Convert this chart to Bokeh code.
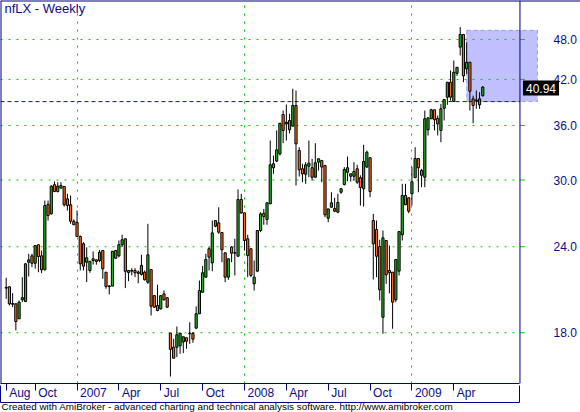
import numpy as np
import pandas as pd
from bokeh.plotting import figure
from bokeh.core.properties import value
from bokeh.models import (Range1d, FixedTicker, LinearAxis, Span, BoxAnnotation, Label,
                          Title, ColumnDataSource)
from bokeh.embed import file_html
from bokeh.resources import INLINE

# ---------------- data ----------------
chart_title = "nfLX - Weekly"
first_bar = "2006-08-04"   # weekly bars (Fridays)

opens = [20.90, 20.99, 19.85, 19.83, 18.86, 20.10, 19.98, 22.79, 23.28, 22.71,
         24.16, 23.28, 22.22, 27.65, 26.79, 29.53, 28.87, 29.20, 29.36, 28.17,
         27.62, 26.14, 26.03, 24.84, 24.24, 22.79, 22.17, 23.05, 22.97, 22.92,
         23.70, 22.04, 21.00, 21.04, 23.70, 23.28, 24.16, 24.65, 22.02, 22.17,
         22.17, 22.05, 21.88, 22.04, 21.32, 22.24, 20.38, 19.72, 19.50, 20.50,
         20.24, 17.98, 17.15, 17.15, 17.23, 17.45, 17.70, 17.94, 17.96, 18.28,
         19.18, 20.61, 21.68, 23.84, 22.74, 25.71, 26.00, 25.17, 23.52, 21.68,
         23.97, 23.49, 23.25, 28.11, 26.88, 24.65, 23.84, 21.20, 22.12, 25.34,
         26.85, 26.29, 27.70, 31.68, 31.96, 32.74, 37.34, 36.20, 36.61, 35.92,
         38.49, 33.11, 31.15, 30.59, 31.42, 31.26, 30.28, 31.85, 32.03, 31.50,
         26.40, 27.39, 27.27, 26.94, 28.80, 29.55, 30.79, 30.38, 30.38, 31.15,
         30.23, 29.14, 31.33, 32.32, 26.20, 25.43, 24.02, 18.96, 24.51, 22.17,
         22.04, 20.10, 22.12, 24.98, 28.49, 28.27, 28.65, 30.23, 32.24, 30.97,
         30.28, 35.49, 36.82, 37.94, 36.86, 35.41, 38.14, 39.58, 41.61, 39.01,
         42.87, 46.79, 48.82, 43.52, 44.49, 39.36, 39.20, 38.58, 39.78]

highs = [21.64, 21.01, 20.55, 19.85, 20.05, 21.68, 22.69, 23.44, 23.44, 24.10,
         24.16, 23.70, 28.01, 28.01, 29.46, 29.85, 29.78, 29.78, 29.36, 28.65,
         28.49, 26.30, 27.09, 24.92, 24.37, 23.95, 22.86, 23.62, 22.97, 23.75,
         23.70, 22.04, 21.10, 23.64, 23.75, 24.51, 24.98, 24.65, 22.17, 22.34,
         22.34, 22.17, 23.36, 22.17, 25.91, 22.24, 20.40, 21.14, 20.38, 20.73,
         20.24, 17.98, 17.64, 18.38, 17.98, 17.76, 17.70, 18.64, 18.05, 19.66,
         21.44, 22.50, 23.44, 23.97, 26.20, 26.20, 27.39, 25.17, 23.52, 23.05,
         24.05, 24.65, 29.07, 28.65, 26.88, 24.98, 23.84, 22.92, 25.34, 26.94,
         27.24, 27.80, 34.24, 32.57, 35.41, 36.28, 37.85, 38.62, 37.44, 40.71,
         40.47, 33.48, 31.68, 31.85, 34.24, 32.21, 33.93, 32.21, 32.03, 31.50,
         27.24, 28.80, 28.27, 28.65, 29.14, 31.32, 32.46, 30.63, 31.85, 31.57,
         30.48, 33.75, 33.11, 32.32, 26.79, 26.20, 24.57, 25.34, 24.51, 24.10,
         22.04, 23.00, 25.25, 29.62, 29.62, 28.27, 31.33, 33.48, 32.24, 31.15,
         37.85, 36.94, 38.07, 37.94, 37.22, 38.71, 39.27, 41.61, 43.27, 44.75,
         43.74, 50.03, 48.82, 47.57, 44.49, 39.78, 40.47, 40.25, 41.07]

lows = [20.16, 19.72, 19.61, 18.14, 18.85, 19.94, 19.95, 21.73, 22.42, 22.30,
        22.04, 21.97, 22.17, 26.20, 26.73, 28.80, 28.78, 29.17, 27.45, 27.09,
        25.92, 25.83, 24.84, 22.17, 22.17, 21.32, 22.00, 22.61, 22.60, 22.79,
        21.56, 20.86, 20.46, 21.04, 23.05, 23.17, 24.00, 20.90, 21.39, 21.80,
        21.68, 21.24, 21.80, 21.44, 21.20, 19.07, 19.55, 19.34, 19.45, 20.05,
        19.55, 15.55, 16.53, 16.59, 16.78, 16.81, 17.06, 17.34, 17.40, 18.24,
        19.18, 20.61, 21.64, 22.17, 22.12, 25.62, 25.06, 22.79, 21.32, 21.49,
        22.79, 21.80, 23.25, 26.79, 23.70, 21.68, 21.68, 20.73, 22.04, 25.20,
        25.83, 25.83, 27.70, 30.63, 31.85, 32.57, 33.93, 34.24, 35.06, 35.92,
        29.46, 30.35, 29.78, 29.62, 30.28, 29.95, 30.28, 30.97, 29.78, 26.49,
        26.05, 27.39, 26.94, 26.85, 28.65, 29.46, 29.88, 29.85, 29.95, 29.62,
        27.55, 27.45, 31.26, 28.33, 21.51, 21.68, 20.05, 17.94, 21.20, 20.54,
        18.24, 19.94, 21.80, 24.51, 27.62, 26.85, 27.55, 30.23, 28.80, 29.29,
        29.29, 34.82, 36.82, 35.41, 34.82, 34.05, 36.61, 38.58, 39.14, 39.01,
        42.51, 45.50, 41.61, 42.79, 37.85, 36.28, 38.07, 38.07, 39.65]

closes = [20.95, 19.83, 19.80, 18.69, 19.94, 20.24, 22.67, 22.97, 22.71, 24.10,
          23.23, 22.22, 27.55, 26.64, 29.39, 28.87, 29.39, 29.46, 27.62, 27.55,
          26.14, 25.83, 24.84, 22.67, 22.49, 23.13, 22.86, 22.92, 22.84, 23.56,
          22.29, 21.02, 21.05, 23.64, 23.10, 24.16, 24.57, 22.11, 22.17, 22.12,
          22.00, 21.95, 22.55, 21.49, 23.36, 19.67, 19.61, 19.39, 20.38, 20.10,
          19.61, 17.03, 16.53, 17.88, 17.98, 17.76, 17.50, 17.98, 17.62, 19.18,
          20.73, 22.00, 23.00, 23.18, 25.14, 26.20, 25.20, 23.76, 21.68, 23.05,
          23.49, 23.53, 28.11, 26.88, 24.51, 23.31, 21.80, 21.68, 25.34, 26.79,
          26.55, 27.80, 31.57, 31.26, 33.19, 36.28, 35.41, 36.40, 35.49, 38.49,
          33.86, 31.04, 30.63, 31.57, 31.74, 30.28, 31.78, 32.21, 31.33, 26.70,
          27.24, 27.80, 27.03, 27.83, 29.14, 31.07, 31.26, 30.63, 30.87, 29.78,
          29.26, 31.92, 32.92, 28.87, 24.24, 23.25, 20.78, 24.73, 21.85, 22.00,
          19.94, 23.00, 25.25, 28.49, 27.62, 27.03, 29.82, 32.24, 31.26, 30.48,
          36.82, 36.94, 37.94, 36.70, 36.20, 38.07, 39.27, 41.61, 39.58, 43.02,
          43.74, 48.82, 42.51, 44.49, 40.37, 38.49, 39.10, 39.36, 40.94]

month_starts = ["2006-08-01", "2006-10-01", "2007-01-01", "2007-04-01", "2007-07-01",
                "2007-10-01", "2008-01-01", "2008-04-01", "2008-07-01", "2008-10-01",
                "2009-01-01", "2009-04-01"]
month_labels = ["Aug", "Oct", "2007", "Apr", "Jul", "Oct", "2008", "Apr", "Jul", "Oct",
                "2009", "Apr"]
year_starts = ["2007-01-01", "2008-01-01", "2009-01-01"]
price_ticks = [18.0, 24.0, 30.0, 36.0, 42.0, 48.0]
price_labels = ["18.0", "24.0", "30.0", "36.0", "42.0", "48.0"]

hline_price = 39.0
rect_from = "2009-05-01"
rect_to = "2009-10-02"
rect_high = 49.5
rect_low = 39.0

footer = ("Created with AmiBroker - advanced charting and technical analysis software. "
          "http://www.amibroker.com")

# ---------------- style ----------------
NAVY = "#000080"
TXT = "#0c0c84"
GRID = "#00cc00"
UP = "#22b422"
DOWN = "#ff6a22"
BLUE = "#0c0cd0"
RECT = "#c0c0ff"
FONT = "Liberation Sans"

W, H = 580, 412
X0, X1 = -1.77, 178.35        # visible bar span (whole width)
XB = 159.55                   # bar position of the chart's right border
Y0, Y1 = 15.19, 54.69

# ---------------- derived ----------------
n = len(closes)
dates = pd.date_range(first_bar, periods=n, freq="W-FRI")
bars = np.arange(n)
ppb = W / (X1 - X0)           # pixels per bar


def first_bar_on_or_after(d):
    return int(np.searchsorted(dates.values, np.datetime64(pd.Timestamp(d))))


def bar_pos(d):
    return (pd.Timestamp(d) - dates[0]).days / 7.0


o = np.array(opens); c = np.array(closes); h = np.array(highs); l = np.array(lows)
src = ColumnDataSource(dict(x=bars, h=h, l=l, top=np.maximum(o, c), bot=np.minimum(o, c),
                            color=np.where(c >= o, UP, DOWN)))

p = figure(width=W, height=H, x_range=Range1d(X0, X1), y_range=Range1d(Y0, Y1),
           y_axis_type="log", y_axis_location=None, output_backend="svg",
           toolbar_location=None, min_border_left=0, min_border_right=0,
           min_border_top=0, min_border_bottom=29)
p.background_fill_color = "white"
p.border_fill_color = "white"
p.outline_line_color = None
p.ygrid.visible = False

# x axis: month ticks (minor) + labels just right of each tick
cw = {"A": .667, "u": .556, "g": .556, "O": .778, "c": .5, "t": .278, "p": .556,
      "r": .333, "J": .5, "l": .222}
tick_bars = [first_bar_on_or_after(m) for m in month_starts]
label_pos = [round(t + (3 + 0.5 * 12 * sum(cw.get(ch, .556) for ch in s)) / ppb, 3)
             for t, s in zip(tick_bars, month_labels)]
xa = p.xaxis[0]
xa.bounds = (X0, XB)
xa.ticker = FixedTicker(ticks=label_pos, minor_ticks=tick_bars)
xa.major_label_overrides = {pos: s for pos, s in zip(label_pos, month_labels)}
xa.major_tick_line_color = None
xa.major_tick_out = 0
xa.major_tick_in = 0
xa.minor_tick_line_color = NAVY
xa.minor_tick_out = 7
xa.minor_tick_in = 0
xa.axis_line_color = NAVY
xa.major_label_standoff = -5
xa.major_label_text_font = FONT
xa.major_label_text_font_size = "12px"
xa.major_label_text_color = TXT

# bottom edge of the date strip; its inward ticks close the strip's sides
side_ticks = [round(X0 + 0.5 / ppb, 3), round(XB - 0.001, 3)]
xa2 = LinearAxis(ticker=FixedTicker(ticks=side_ticks), bounds=(X0, XB), axis_line_color=NAVY,
                 major_tick_line_color=NAVY, minor_tick_line_color=None,
                 major_tick_out=0, major_tick_in=17, minor_tick_out=0, minor_tick_in=0,
                 major_label_standoff=0, major_label_text_font_size="0px",
                 major_label_overrides={t: "" for t in side_ticks})
p.add_layout(xa2, "below")

# vertical grid at year starts
p.xgrid.ticker = FixedTicker(ticks=[first_bar_on_or_after(y) for y in year_starts])
p.xgrid.grid_line_color = GRID
p.xgrid.grid_line_dash = "2 6"
p.xgrid.grid_line_width = 1

# rectangle study (under everything)
p.add_layout(BoxAnnotation(left=bar_pos(rect_from), right=bar_pos(rect_to),
                           top=rect_high, bottom=rect_low, fill_color=RECT, fill_alpha=1.0,
                           line_color=BLUE, line_dash="4 3", line_width=1, level="image"))

# horizontal price grid, stopping at the right border, with short ticks past it
nt = len(price_ticks)
p.segment(x0=[X0] * nt, y0=price_ticks, x1=[XB] * nt, y1=price_ticks,
          line_color=GRID, line_dash="2 6", line_width=1)
p.segment(x0=[XB] * nt, y0=price_ticks, x1=[XB + 5 / ppb] * nt, y1=price_ticks,
          line_color=GRID, line_width=1)
p.text(x=[XB + 33.5 / ppb] * nt, y=price_ticks, text=price_labels,
       text_font=value(FONT), text_font_size="12px", text_color=TXT,
       text_align="left", text_baseline="middle")

# horizontal level line
p.segment(x0=[X0], y0=[hline_price], x1=[XB], y1=[hline_price], line_color=BLUE,
          line_dash="4 3", line_width=1)

# candles
p.segment(x0="x", y0="l", x1="x", y1="h", source=src, line_color="black", line_width=1)
p.vbar(x="x", width=0.68, top="top", bottom="bot", source=src, fill_color="color",
       line_color="black", line_width=1)

# chart borders: left, top, right
p.add_layout(Span(location=X0, dimension="height", line_color=NAVY, line_width=2))
p.add_layout(Span(location=Y1, dimension="width", line_color=NAVY, line_width=2))
p.add_layout(Span(location=XB, dimension="height", line_color=NAVY, line_width=1))

# title inside the chart
p.add_layout(Label(x=X0, y=Y1, x_offset=4, y_offset=0, text=chart_title,
                   text_font=FONT, text_font_size="13px", text_color=TXT,
                   text_baseline="top", text_align="left"))

# last price marker
p.add_layout(Label(x=XB, y=closes[-1], x_offset=3, y_offset=-1, text=f"{closes[-1]:.2f}",
                   text_font=FONT, text_font_size="12px", text_color="white",
                   background_fill_color="black", text_baseline="middle",
                   text_align="left", padding=3))

# footer
p.add_layout(Title(text=footer, align="left", vertical_align="top", text_font=FONT,
                   text_font_size="9.9px", text_font_style="normal", text_color="black",
                   text_line_height=1.0, standoff=-3, offset=1),
             "below")

open("out.html", "w").write(file_html(p, INLINE))
